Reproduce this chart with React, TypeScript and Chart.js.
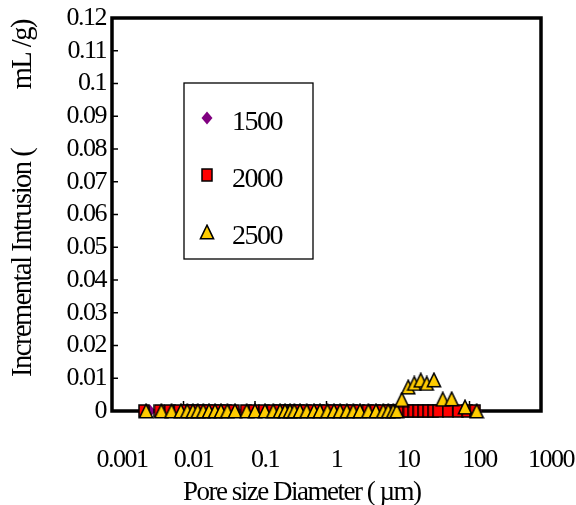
import React, { useEffect, useRef } from "react";
import { Chart, registerables } from "chart.js";

Chart.register(...registerables);

const seriesNames = ["1500", "2000", "2500"];

const diameter1500 = [0.0031, 0.0034, 0.005, 0.0071, 0.0095, 0.0117, 0.014, 0.0165, 0.0197, 0.0236, 0.0287, 0.0347, 0.0425, 0.0545, 0.079, 0.104, 0.143, 0.187, 0.232, 0.272, 0.32, 0.367, 0.44, 0.545, 0.69, 0.838, 1.06, 1.31, 1.6, 1.98, 2.5, 3.3, 3.96, 5.06, 6.4, 7.52, 8.84, 10.4, 12.2, 14.3, 16.7, 19.6, 23.0, 27.0, 31.6, 37.1, 43.5, 51.0, 69, 96, 124];
const intrusion1500 = [0, 0, 0, 0, 0, 0, 0, 0, 0, 0, 0, 0, 0, 0, 0, 0, 0, 0, 0, 0, 0, 0, 0, 0, 0, 0, 0, 0, 0, 0, 0, 0, 0, 0, 0, 0, 0, 0, 0, 0, 0, 0, 0, 0, 0, 0, 0, 0, 0, 0, 0];

const diameter2000 = [0.0028, 0.0046, 0.0064, 0.0087, 0.0108, 0.0129, 0.0152, 0.0181, 0.0218, 0.0265, 0.032, 0.0395, 0.0505, 0.074, 0.097, 0.133, 0.174, 0.217, 0.255, 0.3, 0.345, 0.413, 0.512, 0.65, 0.79, 1.0, 1.24, 1.51, 1.87, 2.31, 2.86, 3.75, 4.8, 6.05, 7.15, 8.4, 9.4, 11.9, 14.0, 16.4, 19.2, 22.5, 26.4, 31.0, 36.4, 49.7, 69, 93, 120];
const intrusion2000 = [0, 0, 0, 0, 0, 0, 0, 0, 0, 0, 0, 0, 0, 0, 0, 0, 0, 0, 0, 0, 0, 0, 0, 0, 0, 0, 0, 0, 0, 0, 0, 0, 0, 0, 0, 0, 0, 0, 0, 0, 0, 0, 0, 0, 0, 0, 0, 0, 0];

const diameter2500 = [0.003, 0.0049, 0.0068, 0.0092, 0.0113, 0.0135, 0.0158, 0.0189, 0.0227, 0.0276, 0.0334, 0.041, 0.0525, 0.0765, 0.1, 0.138, 0.18, 0.224, 0.263, 0.309, 0.355, 0.426, 0.528, 0.668, 0.811, 1.03, 1.27, 1.55, 1.92, 2.37, 2.94, 3.85, 4.92, 6.22, 7.31, 8.59, 9.59, 11.3, 13.9, 16.9, 20.8, 25.2, 31.8, 42.2, 56.3, 86.5, 126];
const intrusion2500 = [0, 0, 0, 0, 0, 0, 0, 0, 0, 0, 0, 0, 0, 0, 0, 0, 0, 0, 0, 0, 0, 0, 0, 0, 0, 0, 0, 0, 0, 0, 0, 0, 0, 0, 0, 0, 0, 0.0035, 0.0073, 0.0084, 0.0094, 0.0084, 0.0095, 0.0036, 0.0037, 0.0012, 0];

const xTickValues = [0.001, 0.01, 0.1, 1, 10, 100, 1000];
const xTickLabels = ["0.001", "0.01", "0.1", "1", "10", "100", "1000"];
const yTickValues = [0, 0.01, 0.02, 0.03, 0.04, 0.05, 0.06, 0.07, 0.08, 0.09, 0.1, 0.11, 0.12];
const yTickLabels = ["0", "0.01", "0.02", "0.03", "0.04", "0.05", "0.06", "0.07", "0.08", "0.09", "0.1", "0.11", "0.12"];

const xTitle = "Pore size Diameter ( \u00b5m)";
const yTitleMain = "Incremental Intrusion (";
const yTitleUnit = "mL /g)";

const FONT = "'Liberation Serif', 'Times New Roman', serif";

function makeGlyph(kind: string): HTMLCanvasElement {
  const c = document.createElement("canvas");
  if (kind === "diamond") {
    c.width = 12;
    c.height = 14;
    const g = c.getContext("2d")!;
    g.fillStyle = "#800080";
    g.beginPath();
    g.moveTo(6, 0.5);
    g.lineTo(11.5, 7);
    g.lineTo(6, 13.5);
    g.lineTo(0.5, 7);
    g.closePath();
    g.fill();
  } else if (kind === "square") {
    c.width = 12;
    c.height = 14;
    const g = c.getContext("2d")!;
    g.fillStyle = "#FF0000";
    g.fillRect(1, 1, 10, 12);
    g.strokeStyle = "#000";
    g.lineWidth = 1.5;
    g.strokeRect(1, 1, 10, 12);
  } else {
    c.width = 16;
    c.height = 16;
    const g = c.getContext("2d")!;
    g.beginPath();
    g.moveTo(8, 1.2);
    g.lineTo(14.6, 14.8);
    g.lineTo(1.4, 14.8);
    g.closePath();
    g.fillStyle = "#FFCC00";
    g.fill();
    g.strokeStyle = "#000";
    g.lineWidth = 1.5;
    g.stroke();
  }
  return c;
}

export default function App() {
  const ref = useRef<HTMLCanvasElement | null>(null);

  useEffect(() => {
    if (!ref.current) return;
    const glyphs = [makeGlyph("diamond"), makeGlyph("square"), makeGlyph("triangle")];
    const diameters = [diameter1500, diameter2000, diameter2500];
    const intrusions = [intrusion1500, intrusion2000, intrusion2500];

    const decor = {
      id: "decor",
      beforeDraw(chart: any) {
        (chart.ctx as any).letterSpacing = "-1.5px";
      },
      beforeDatasetsDraw(chart: any) {
        const { ctx, chartArea: a, scales } = chart;
        ctx.save();
        ctx.strokeStyle = "#000";
        ctx.lineWidth = 1.5;
        yTickValues.forEach((v) => {
          const py = scales.y.getPixelForValue(v);
          ctx.beginPath();
          ctx.moveTo(a.left, py);
          ctx.lineTo(a.left + 6, py);
          ctx.stroke();
        });
        xTickValues.forEach((v) => {
          const px = scales.x.getPixelForValue(v);
          ctx.beginPath();
          ctx.moveTo(px, a.bottom);
          ctx.lineTo(px, a.bottom - 10);
          ctx.stroke();
        });
        ctx.lineWidth = 3.5;
        ctx.strokeRect(a.left, a.top, a.right - a.left, a.bottom - a.top);
        ctx.restore();
      },
      afterDraw(chart: any) {
        const { ctx, chartArea: a } = chart;
        ctx.save();
        (ctx as any).letterSpacing = "-1.5px";
        // legend box
        const bx = a.left + 72;
        const by = a.top + 65;
        ctx.fillStyle = "#fff";
        ctx.fillRect(bx, by, 129, 176);
        ctx.strokeStyle = "#000";
        ctx.lineWidth = 1.3;
        ctx.strokeRect(bx, by, 129, 176);
        const rows = [35, 92, 149];
        ctx.fillStyle = "#000";
        ctx.textAlign = "left";
        ctx.textBaseline = "middle";
        ctx.font = `28px ${FONT}`;
        seriesNames.forEach((name, i) => {
          const g = glyphs[i];
          ctx.drawImage(g, bx + 23 - g.width / 2, by + rows[i] - g.height / 2);
          ctx.fillText(name, bx + 48, by + rows[i] + 5);
        });
        // x title
        ctx.font = `27px ${FONT}`;
        ctx.textBaseline = "alphabetic";
        ctx.textAlign = "left";
        ctx.fillText(xTitle, 183, 500);
        // y title
        ctx.save();
        ctx.font = `28.5px ${FONT}`;
        ctx.translate(24, 0);
        ctx.rotate(-Math.PI / 2);
        ctx.textBaseline = "middle";
        ctx.textAlign = "left";
        ctx.fillText(yTitleMain, -377, 0);
        ctx.textAlign = "right";
        ctx.fillText(yTitleUnit, -20, 0);
        ctx.restore();
        ctx.restore();
      },
    };

    const chart = new Chart(ref.current, {
      type: "scatter",
      data: {
        datasets: seriesNames.map((name, i) => ({
          label: name,
          data: diameters[i].map((d, j) => ({ x: d, y: intrusions[i][j] })),
          pointStyle: glyphs[i] as any,
          pointRadius: 7,
          showLine: false,
          clip: false as any,
          order: 3 - i,
        })),
      },
      options: {
        responsive: false,
        animation: false,
        layout: { padding: { top: 18, right: 35, left: 0, bottom: 0 } },
        plugins: { legend: { display: false }, tooltip: { enabled: false } },
        scales: {
          x: {
            type: "logarithmic",
            min: 0.001,
            max: 1000,
            grid: { display: false, drawTicks: false },
            border: { display: false },
            afterBuildTicks: (scale: any) => {
              scale.ticks = xTickValues.map((v) => ({ value: v }));
            },
            afterFit: (scale: any) => {
              scale.height = 94;
              scale.paddingLeft = 0;
              scale.paddingRight = 0;
              scale.paddingTop = 0;
              scale.paddingBottom = 0;
            },
            ticks: {
              autoSkip: false,
              maxRotation: 0,
              minRotation: 0,
              padding: 34,
              labelOffset: 10,
              color: "#000",
              font: { family: FONT, size: 26 },
              callback: (_v: any, i: number) => xTickLabels[i],
            },
          },
          y: {
            type: "linear",
            min: 0,
            max: 0.12,
            grid: { display: false, drawTicks: false },
            border: { display: false },
            afterBuildTicks: (scale: any) => {
              scale.ticks = yTickValues.map((v) => ({ value: v }));
            },
            afterFit: (scale: any) => {
              scale.width = 112;
              scale.paddingLeft = 0;
              scale.paddingRight = 0;
              scale.paddingTop = 0;
              scale.paddingBottom = 0;
            },
            ticks: {
              autoSkip: false,
              padding: 6,
              color: "#000",
              font: { family: FONT, size: 26 },
              callback: (_v: any, i: number) => yTickLabels[i],
            },
          },
        },
      },
      plugins: [decor],
    });
    return () => chart.destroy();
  }, []);

  return (
    <div style={{ position: "fixed", left: 0, top: 0, width: 576, height: 505, background: "#fff" }}>
      <canvas ref={ref} width={576} height={505} style={{ display: "block" }} />
    </div>
  );
}
